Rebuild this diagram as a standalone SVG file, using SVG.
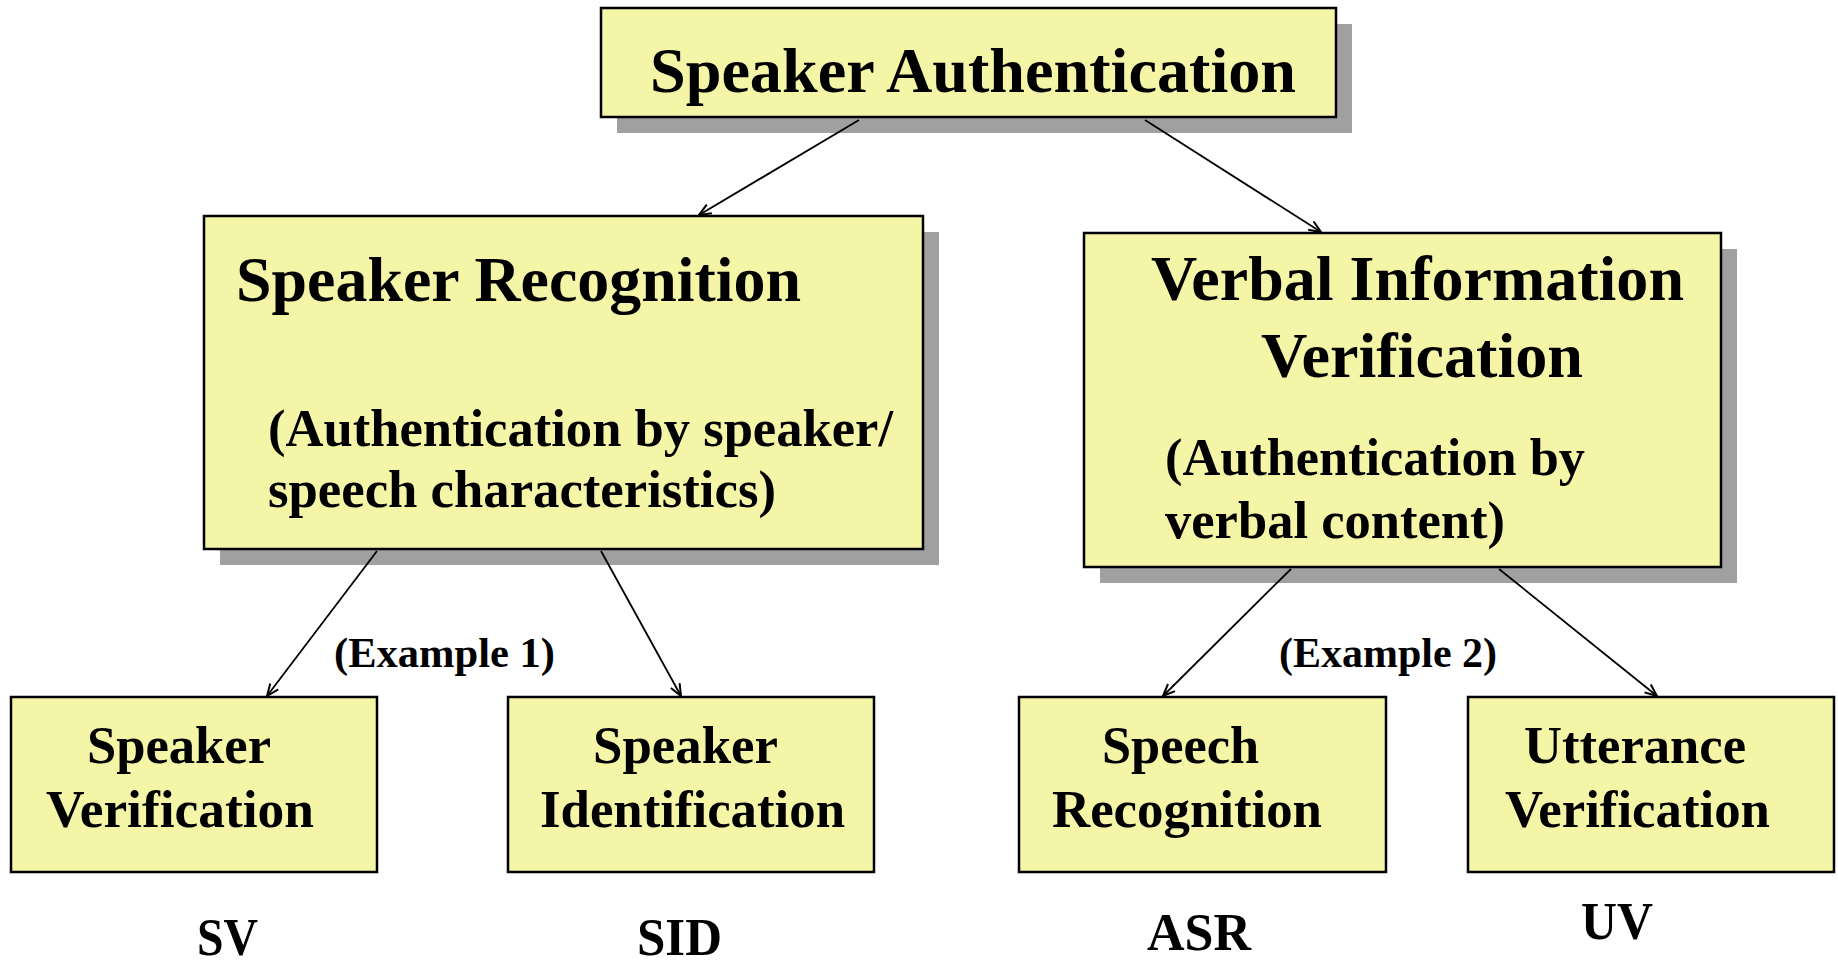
<svg xmlns="http://www.w3.org/2000/svg" width="1838" height="963" viewBox="0 0 1838 963">
  <defs>
    <style>
      .box { fill: #f5f5a8; stroke: #000; stroke-width: 2.5; }
      .shadow { fill: #a0a0a0; stroke: none; }
      text { font-family: 'Liberation Serif', 'Times New Roman', Times, serif; font-weight: 700; fill: #000; }
      .h1 { font-size: 64px; }
      .h2 { font-size: 53px; }
      .h3 { font-size: 42px; }
      .edge { stroke: #000; stroke-width: 1.8; fill: none; marker-end: url(#arrow); }
    </style>
    <marker id="arrow" viewBox="0 0 14 12" refX="13" refY="6" markerWidth="14" markerHeight="12" markerUnits="userSpaceOnUse" orient="auto">
      <path d="M1,1 L13,6 L1,11" fill="none" stroke="#000" stroke-width="2"/>
    </marker>
  </defs>

  <rect width="1838" height="963" fill="#fff"/>

  <g font-family="Liberation Serif, Times New Roman, serif" font-weight="bold">
  <!-- root -->
  <g id="speaker-authentication">
    <rect class="shadow" x="617" y="24" width="735" height="109"/>
    <rect class="box" x="601" y="8" width="735" height="109"/>
    <text class="h1" x="650" y="92" textLength="646" lengthAdjust="spacingAndGlyphs">Speaker Authentication</text>
  </g>

  <!-- second level -->
  <g id="speaker-recognition">
    <rect class="shadow" x="220" y="232" width="719" height="333"/>
    <rect class="box" x="204" y="216" width="719" height="333"/>
    <text class="h1" x="236" y="301" textLength="565" lengthAdjust="spacingAndGlyphs">Speaker Recognition</text>
    <text class="h2" x="268" y="446" textLength="625" lengthAdjust="spacingAndGlyphs">(Authentication by speaker/</text>
    <text class="h2" x="268" y="507" textLength="508" lengthAdjust="spacingAndGlyphs">speech characteristics)</text>
  </g>

  <g id="verbal-information-verification">
    <rect class="shadow" x="1100" y="249" width="637" height="334"/>
    <rect class="box" x="1084" y="233" width="637" height="334"/>
    <text class="h1" x="1151" y="300" textLength="533" lengthAdjust="spacingAndGlyphs">Verbal Information</text>
    <text class="h1" x="1261" y="377" textLength="322" lengthAdjust="spacingAndGlyphs">Verification</text>
    <text class="h2" x="1165" y="475" textLength="420" lengthAdjust="spacingAndGlyphs">(Authentication by</text>
    <text class="h2" x="1165" y="538" textLength="340" lengthAdjust="spacingAndGlyphs">verbal content)</text>
  </g>

  <!-- leaves -->
  <g id="speaker-verification">
    <rect class="box" x="11" y="697" width="366" height="175"/>
    <text class="h2" x="87" y="763" textLength="184" lengthAdjust="spacingAndGlyphs">Speaker</text>
    <text class="h2" x="46" y="827" textLength="268" lengthAdjust="spacingAndGlyphs">Verification</text>
    <text class="h2" x="197" y="955" textLength="61" lengthAdjust="spacingAndGlyphs">SV</text>
  </g>

  <g id="speaker-identification">
    <rect class="box" x="508" y="697" width="366" height="175"/>
    <text class="h2" x="593" y="763" textLength="185" lengthAdjust="spacingAndGlyphs">Speaker</text>
    <text class="h2" x="540" y="827" textLength="305" lengthAdjust="spacingAndGlyphs">Identification</text>
    <text class="h2" x="637" y="955" textLength="85" lengthAdjust="spacingAndGlyphs">SID</text>
  </g>

  <g id="speech-recognition">
    <rect class="box" x="1019" y="697" width="367" height="175"/>
    <text class="h2" x="1102" y="763" textLength="157" lengthAdjust="spacingAndGlyphs">Speech</text>
    <text class="h2" x="1052" y="827" textLength="270" lengthAdjust="spacingAndGlyphs">Recognition</text>
    <text class="h2" x="1147" y="950" textLength="104" lengthAdjust="spacingAndGlyphs">ASR</text>
  </g>

  <g id="utterance-verification">
    <rect class="box" x="1468" y="697" width="366" height="175"/>
    <text class="h2" x="1524" y="763" textLength="222" lengthAdjust="spacingAndGlyphs">Utterance</text>
    <text class="h2" x="1505" y="827" textLength="265" lengthAdjust="spacingAndGlyphs">Verification</text>
    <text class="h2" x="1581" y="939" textLength="72" lengthAdjust="spacingAndGlyphs">UV</text>
  </g>

  <!-- arrows with their example labels -->
  <g id="connectors">
    <line class="edge" x1="859" y1="120" x2="699" y2="215"/>
    <line class="edge" x1="1145" y1="120" x2="1321" y2="232"/>
    <line class="edge" x1="377" y1="551" x2="267" y2="696"/>
    <line class="edge" x1="601" y1="551" x2="681" y2="696"/>
    <line class="edge" x1="1291" y1="569" x2="1163" y2="696"/>
    <line class="edge" x1="1499" y1="569" x2="1657" y2="696"/>
    <text class="h3" x="334" y="667" textLength="221" lengthAdjust="spacingAndGlyphs">(Example 1)</text>
    <text class="h3" x="1279" y="667" textLength="218" lengthAdjust="spacingAndGlyphs">(Example 2)</text>
  </g>
  </g>
</svg>
